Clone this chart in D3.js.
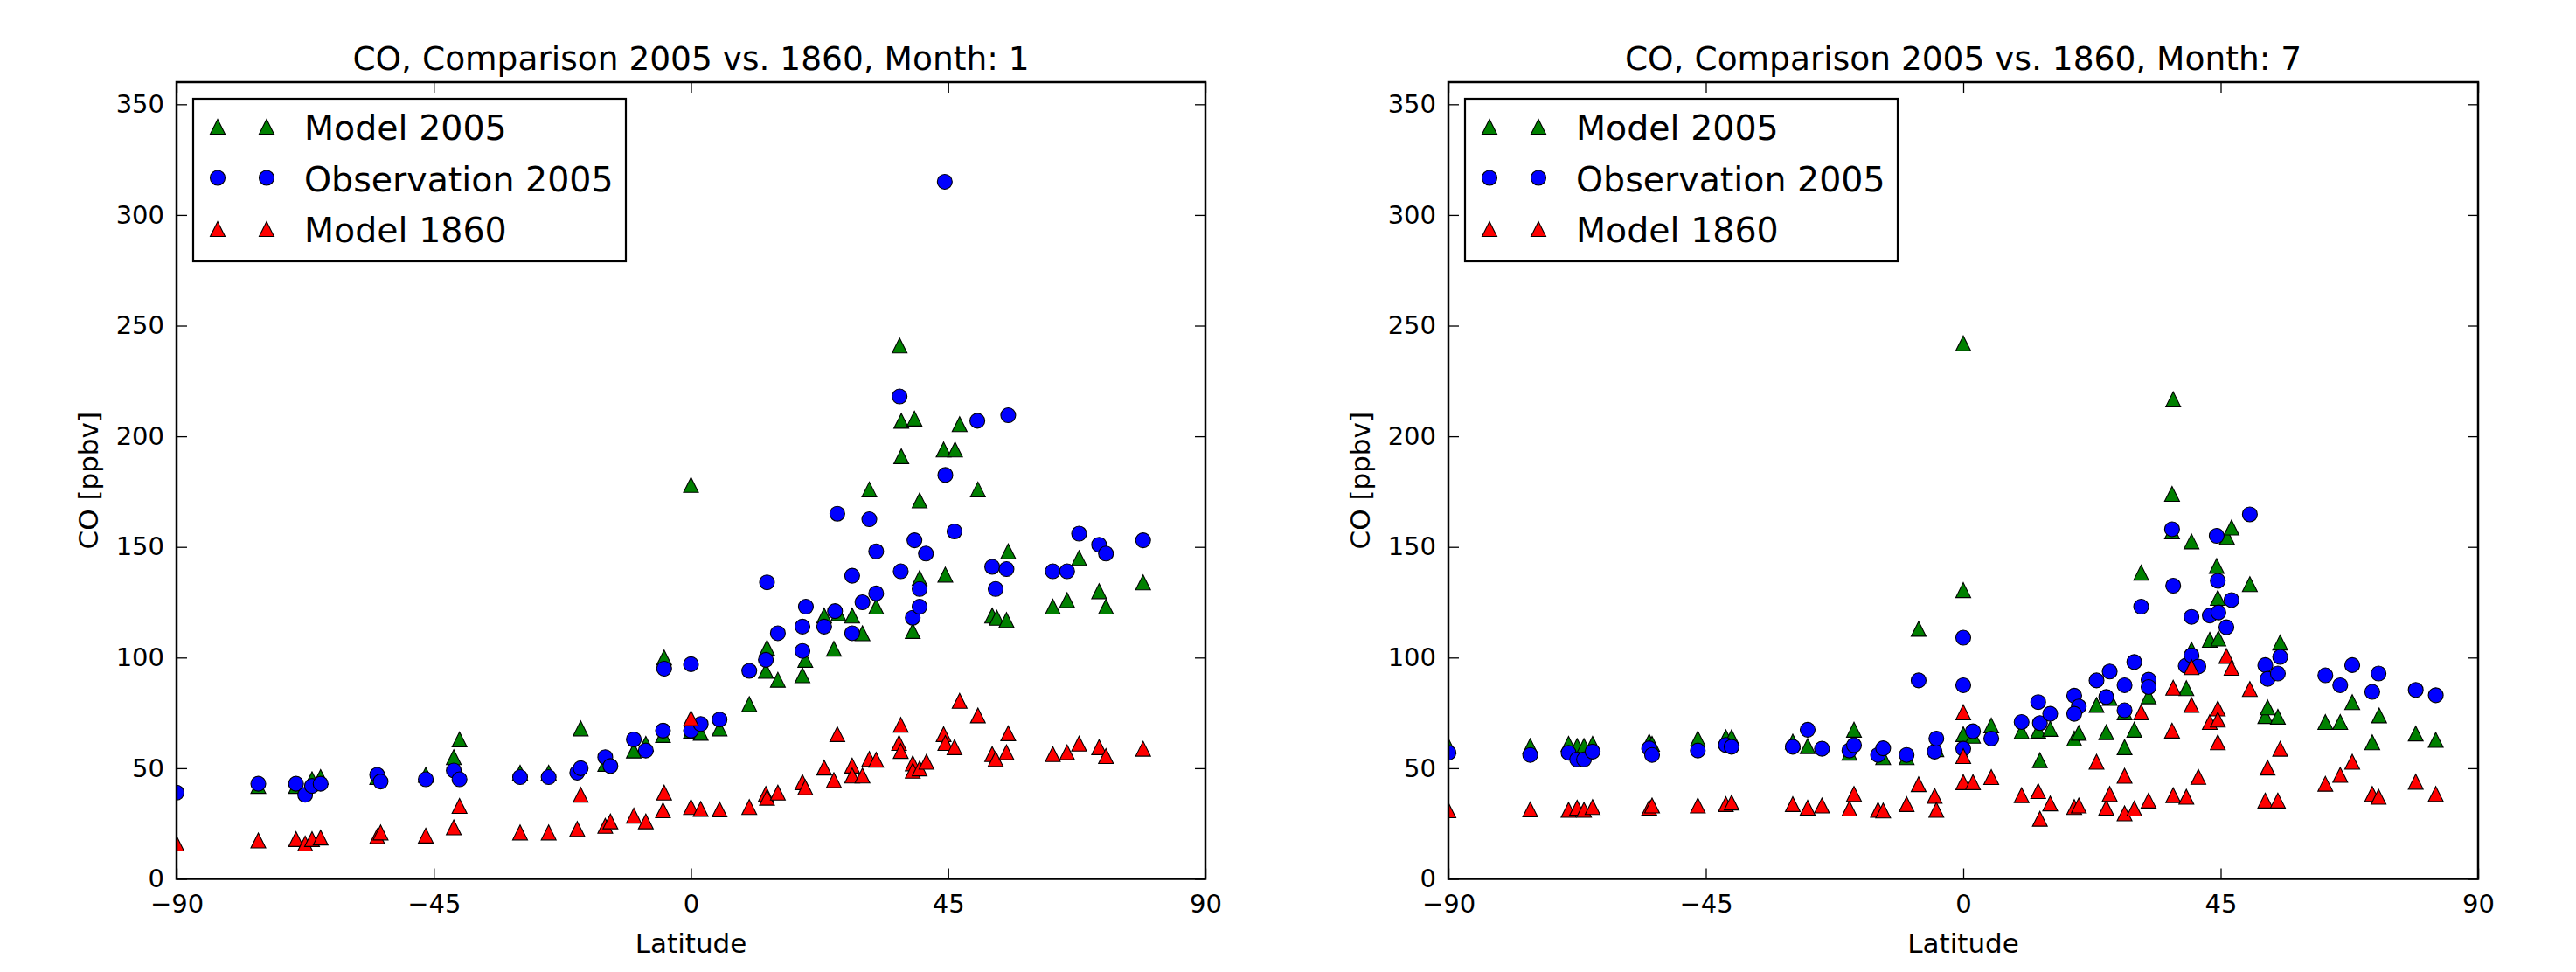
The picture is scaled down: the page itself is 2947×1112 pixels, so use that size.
<!DOCTYPE html>
<html>
<head>
<meta charset="utf-8">
<script src="https://cdnjs.cloudflare.com/ajax/libs/d3/7.8.5/d3.min.js"></script>
<style>
  body { margin: 0; background: #fff; }
  text { font-family: "DejaVu Sans", sans-serif; fill: #000; }
</style>
</head>
<body>
<script>
// tick values
var latTicks = [-90, -45, 0, 45, 90];
var coTicks = [0, 50, 100, 150, 200, 250, 300, 350];
var seriesNames = ["Model 2005", "Observation 2005", "Model 1860"];

// month 1 : [latitude, CO ppbv]
var janModel2005 = [[-75.7,42],[-69.1,42],[-66.3,45],[-64.8,46],[-54.9,46],[-46.4,47],[-41.5,55],[-40.5,63],[-29.9,48],[-24.9,48],
  [-19.3,68],[-15.0,52],[-10.0,58],[-7.9,61],[-4.7,100],[-4.9,65],[0,178],[0,67],[1.7,66],[5.0,68],[10.2,79],[13.1,94],[13.3,104.5],
  [15.2,90],[19.5,92],[20.0,99],[23.3,119],[25.0,104],[25.8,120],[28.2,119],[30.0,111],[31.2,176],[32.4,123],[36.5,241],[36.8,207],
  [36.8,191],[38.8,112],[39.1,208],[40.0,171],[40.0,136],[44.2,194],[44.5,137.5],[46.2,194],[47.0,205.5],[50.2,176],[52.7,119],
  [53.5,118],[55.2,117],[55.5,148],[63.3,123],[65.8,126],[67.9,145],[71.4,130],[72.6,123],[79.1,134]];
var janObs2005 = [[-90,39],[-75.7,43],[-69.1,43],[-67.5,38],[-66.3,42],[-64.8,43],[-54.9,47],[-54.3,44],[-46.4,45],[-41.5,49],
  [-40.5,45],[-29.9,46],[-24.9,46],[-19.9,48],[-19.3,50],[-15.0,55],[-14.1,51],[-10.0,63],[-7.9,58],[-4.9,67],[-4.7,95],[0,97],
  [0,67],[1.7,70],[5.0,72],[10.2,94],[13.1,99],[13.3,134],[15.2,111],[19.5,103],[19.5,114],[20.1,123],[23.3,114],[25.2,121],
  [25.6,165],[28.2,111],[28.2,137],[30.0,125],[31.2,162.5],[32.4,129],[32.4,148],[36.5,218],[36.7,139],[38.8,118],[39.1,153],
  [40.0,123],[40.0,131],[41.1,147],[44.4,315],[44.5,182.5],[46.1,157],[50.1,207],[52.7,141],[53.3,131],[55.2,140],[55.5,209.5],
  [63.3,139],[65.8,139],[67.9,156],[71.4,151],[72.6,147],[79.1,153]];
var janModel1860 = [[-90,16],[-75.7,17.4],[-69.1,18],[-67.5,16],[-66.3,18],[-64.8,18.7],[-54.9,19.3],[-54.3,21],[-46.4,19.6],
  [-41.5,23.3],[-40.5,33],[-29.9,21],[-24.9,21],[-19.9,22.6],[-19.3,38],[-15.0,24],[-14.1,26],[-10.0,28.6],[-7.9,26],[-4.9,31],
  [-4.7,39],[0,32.5],[0,72.6],[1.7,31.6],[5.0,31.4],[10.2,32.5],[13.1,38.4],[13.3,36.7],[15.2,39],[19.5,43.7],[20.0,41.4],
  [23.3,50.3],[25.0,44.6],[25.6,65.4],[28.2,51.2],[28.2,46.7],[30.0,46.7],[31.2,54.2],[32.4,53.8],[36.7,69.6],[36.4,61.4],
  [36.7,57.8],[38.8,52.2],[38.8,48.9],[40.0,49.9],[41.2,52.9],[44.2,65.4],[44.5,61.4],[46.1,59.5],[47.0,80.5],[50.2,73.9],
  [52.7,56.4],[53.3,54.2],[55.2,57.2],[55.5,65.8],[63.3,56.4],[65.8,57.2],[67.9,61.1],[71.4,59.5],[72.6,55.5],[79.1,58.8]];

// month 7 : [latitude, CO ppbv]
var julModel2005 = [[-90,60],[-75.7,60],[-69,61],[-67.5,60],[-66.3,60],[-64.8,61],[-54.9,62],[-54.4,61],[-46.4,63.4],[-41.5,64],
  [-40.5,64],[-29.8,62],[-27.2,60],[-19.9,57],[-19.1,67.4],[-14,55],[-9.9,55],[-7.8,113],[-4.7,58.6],[0,242],[0,130.5],[0,65.4],
  [1.7,64.7],[4.9,69.3],[10.2,66.7],[13.1,67],[13.4,53.6],[15.2,67.8],[19.4,63.4],[20.2,66],[23.3,78.6],[25.0,66.3],[25.6,81.8],
  [28.2,59.5],[28.2,75.3],[29.9,67.4],[31.1,138.4],[32.4,82.5],[36.5,174],[36.5,157],[36.7,216.7],[39.0,86.2],[39.9,152.5],
  [39.9,103.6],[43.1,108],[44.3,141.4],[44.5,127],[44.6,108.6],[46.1,154.5],[46.9,158.8],[50.1,133.2],[52.8,73.6],[53.2,77.5],
  [55.0,73.3],[55.4,106.8],[63.3,70.9],[65.9,70.9],[68.0,79.9],[71.5,61.7],[72.7,73.9],[79.1,65.7],[82.6,62.8]];
var julObs2005 = [[-90,57],[-75.7,56],[-69,57],[-67.5,54],[-66.3,54],[-64.8,57.5],[-54.9,59],[-54.4,56],[-46.4,58],[-41.5,60.5],
  [-40.5,59.7],[-29.8,59.7],[-27.2,67.4],[-24.7,58.8],[-19.9,58],[-19.1,60.4],[-14.9,56],[-14,59],[-9.9,56],[-7.8,89.7],[-5,57.5],
  [-4.7,63.4],[0,109],[0,87.5],[0,58.8],[1.7,66.7],[4.9,63.4],[10.2,70.9],[13.1,79.9],[13.4,70.4],[15.2,74.6],[19.4,82.8],
  [20.2,77.9],[19.4,74.6],[23.3,89.7],[25.6,93.7],[25.0,82.2],[28.2,87.5],[28.2,76.2],[29.9,98],[31.1,123],[32.4,90],[32.4,86.7],
  [36.5,158],[36.7,132.5],[38.9,96.3],[39.9,118.4],[39.9,101],[41.1,96],[43.1,119],[44.6,120.4],[44.3,155],[44.5,134.7],
  [46.0,113.7],[46.9,126],[50.1,164.7],[52.8,96.6],[53.2,90.4],[55.0,92.8],[55.4,100.3],[63.3,92],[65.9,87.5],[68.0,96.6],
  [71.5,84.5],[72.6,92.8],[79.1,85.4],[82.6,83]];
var julModel1860 = [[-90,31],[-75.7,31.4],[-69,31.2],[-67.5,32.2],[-66.3,31.2],[-64.8,32.5],[-54.9,32.2],[-54.4,33.2],[-46.4,33.2],
  [-41.5,33.8],[-40.5,34.5],[-29.8,33.8],[-27.2,32.2],[-24.7,33.2],[-19.9,31.8],[-19.1,38.4],[-14.9,31.2],[-14,30.9],[-9.9,33.8],
  [-7.8,42.8],[-5,37.5],[-4.7,31.2],[0,75.3],[0,55.5],[0,43.7],[1.7,43.7],[4.9,46],[10.2,37.8],[13.1,39.7],[13.4,27.2],[15.2,34.1],
  [19.4,32.5],[20.2,33.2],[23.3,52.9],[25.0,32.2],[25.6,38.4],[28.2,46.6],[28.2,29.6],[29.9,31.8],[31.1,75.3],[32.4,35.4],[36.5,67],
  [36.7,86.4],[36.7,37.8],[39,37.1],[39.9,95.7],[39.9,78.6],[41.1,46.1],[43.1,70.9],[44.5,77],[44.5,72],[44.5,61.7],[46.0,100.7],
  [46.9,95.4],[50.1,85.8],[52.8,35.4],[53.2,50.3],[55.0,35.4],[55.4,58.8],[63.3,43],[65.9,47],[68,52.9],[71.5,38.4],[72.6,37.1],
  [79.1,43.9],[82.6,38.4]];

var colors = ["#008000", "#0000ff", "#ff0000"];
var shapes = ["tri", "circle", "tri"];
var ms = 17;

var svg = d3.select("body").append("svg")
    .attr("width", 2947)
    .attr("height", 1112);

svg.append("rect").attr("width", 2947).attr("height", 1112).attr("fill", "#fff");

var triPath = function(s){
    var h = s / 2;
    return "M0," + (-h) + "L" + (-h) + "," + h + "L" + h + "," + h + "Z";
};

var drawMarker = function(g, shape, color){
    if (shape === "tri") {
        g.append("path").attr("d", triPath(ms))
            .attr("fill", color).attr("stroke", "#000").attr("stroke-width", 1.1);
    } else {
        g.append("circle").attr("r", ms / 2)
            .attr("fill", color).attr("stroke", "#000").attr("stroke-width", 1.1);
    }
};

var drawPanel = function(left, right, month, series){
    var top = 94, bottom = 1005.5;
    var x = d3.scaleLinear().domain([-90, 90]).range([left, right]);
    var y = d3.scaleLinear().domain([0, 360]).range([bottom, top]);
    var g = svg.append("g");

    // markers are clipped to the axes box
    var clipId = "clip" + month;
    svg.append("clipPath").attr("id", clipId).append("rect")
        .attr("x", left).attr("y", top)
        .attr("width", right - left).attr("height", bottom - top);
    var pts = g.append("g").attr("clip-path", "url(#" + clipId + ")");

    // points, in plot order
    series.forEach(function(data, i){
        pts.append("g").selectAll("g").data(data).enter().append("g")
            .attr("transform", function(d){ return "translate(" + x(d[0]) + "," + y(d[1]) + ")"; })
            .each(function(){ drawMarker(d3.select(this), shapes[i], colors[i]); });
    });

    // axes with inward ticks on all sides
    g.append("g").attr("transform", "translate(0," + bottom + ")")
        .call(d3.axisBottom(x).tickValues(latTicks).tickSize(-12).tickPadding(18));
    g.append("g").attr("transform", "translate(" + left + ",0)")
        .call(d3.axisLeft(y).tickValues(coTicks).tickSize(-12).tickPadding(14));
    g.append("g").attr("transform", "translate(0," + top + ")")
        .call(d3.axisTop(x).tickValues(latTicks).tickSize(-12).tickFormat(""));
    g.append("g").attr("transform", "translate(" + right + ",0)")
        .call(d3.axisRight(y).tickValues(coTicks).tickSize(-12).tickFormat(""));
    g.selectAll(".domain").remove();
    g.selectAll(".tick line").attr("stroke", "#000").attr("stroke-width", 1.3);
    g.selectAll(".tick text").attr("font-size", 29).attr("font-family", "DejaVu Sans").attr("fill", "#000");

    g.append("rect").attr("x", left).attr("y", top)
        .attr("width", right - left).attr("height", bottom - top)
        .attr("fill", "none").attr("stroke", "#000").attr("stroke-width", 2.5);

    g.append("text").attr("x", (left + right) / 2).attr("y", 80)
        .attr("text-anchor", "middle").attr("font-size", 37.5)
        .text("CO, Comparison 2005 vs. 1860, Month: " + month);
    g.append("text").attr("x", (left + right) / 2).attr("y", 1090)
        .attr("text-anchor", "middle").attr("font-size", 31)
        .text("Latitude");
    g.append("text")
        .attr("transform", "translate(" + (left - 90) + "," + ((top + bottom) / 2) + ") rotate(-90)")
        .attr("text-anchor", "middle").attr("font-size", 31)
        .text("CO [ppbv]");

    // legend
    var lg = g.append("g").attr("transform", "translate(" + (left + 19) + ",113)");
    lg.append("rect").attr("width", 495).attr("height", 186)
        .attr("fill", "#fff").attr("stroke", "#000").attr("stroke-width", 2.2);
    seriesNames.forEach(function(name, i){
        var cy = 32 + i * 58.5;
        [28, 84].forEach(function(cx){
            drawMarker(lg.append("g").attr("transform", "translate(" + cx + "," + cy + ")"), shapes[i], colors[i]);
        });
        lg.append("text").attr("x", 127).attr("y", cy + 15)
            .attr("font-size", 39.5).text(name);
    });
};

drawPanel(202, 1379, 1, [janModel2005, janObs2005, janModel1860]);
drawPanel(1657, 2835, 7, [julModel2005, julObs2005, julModel1860]);
</script>
</body>
</html>
